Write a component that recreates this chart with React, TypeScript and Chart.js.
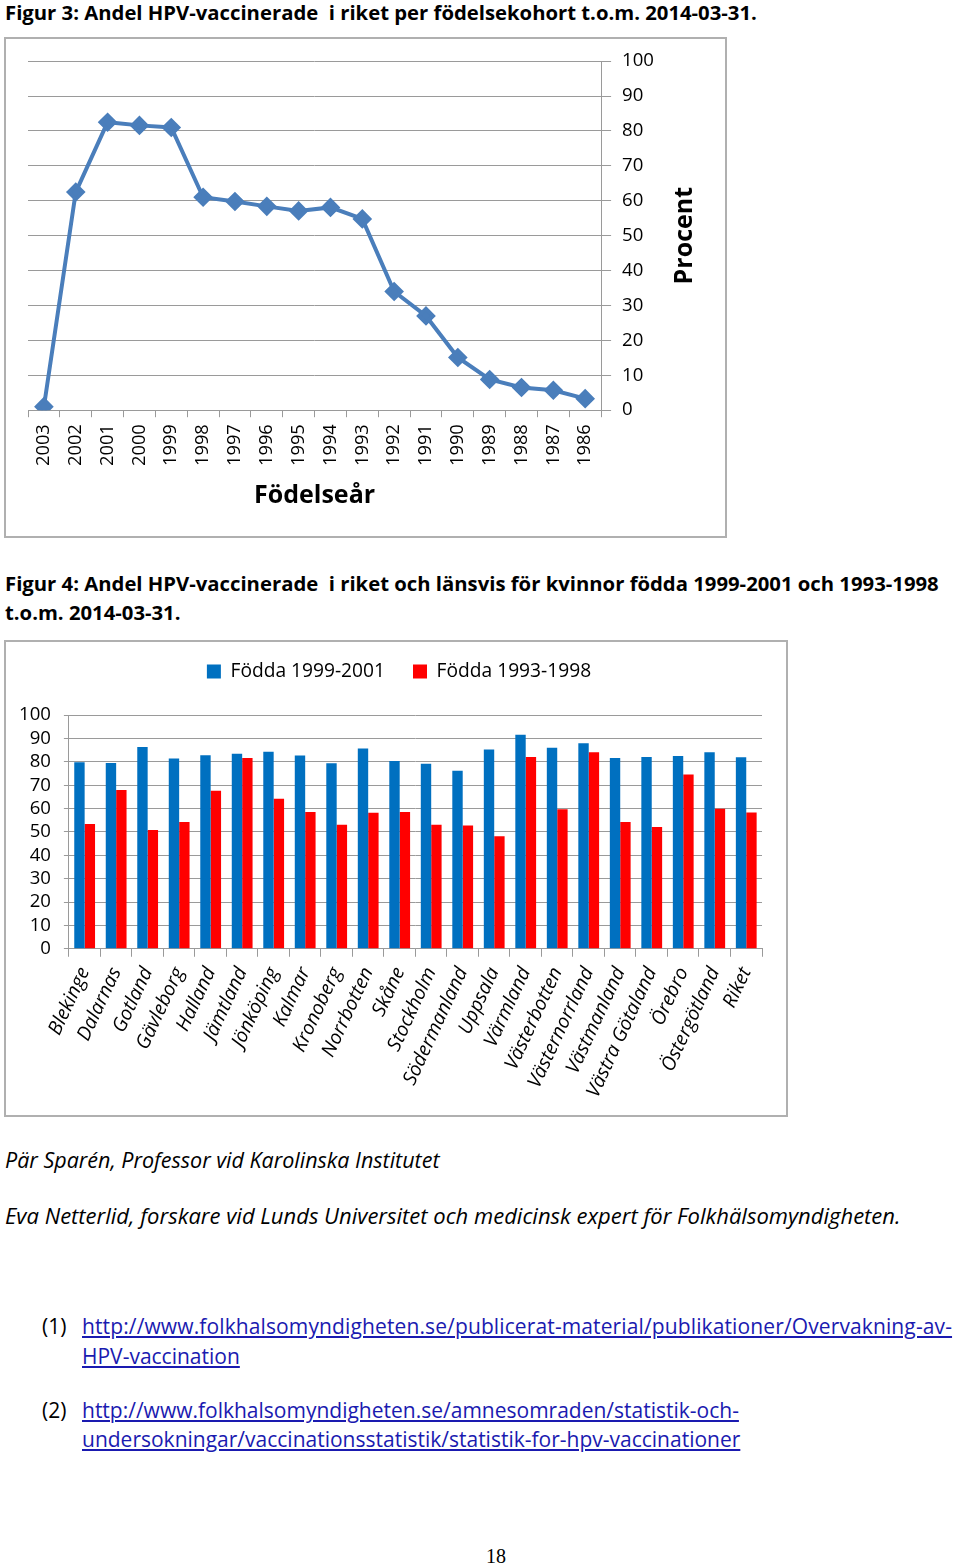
import { useEffect, useRef } from "react"
import { Chart, registerables } from "chart.js"

Chart.register(...registerables)

const FONT = "'Open Sans', sans-serif"
const GRID = "#9a9a9a"

// Figur 3: share vaccinated per birth cohort
const birthYears = [
  "2003", "2002", "2001", "2000", "1999", "1998", "1997", "1996", "1995",
  "1994", "1993", "1992", "1991", "1990", "1989", "1988", "1987", "1986",
]
const cohortShare = [1, 62.5, 82.5, 81.6, 81, 61, 59.8, 58.4, 57.1, 58.1, 54.8, 34, 27, 15.1, 8.8, 6.5, 5.7, 3.3]

// Figur 4: share vaccinated per county
const counties = [
  "Blekinge", "Dalarnas", "Gotland", "Gävleborg", "Halland", "Jämtland", "Jönköping", "Kalmar",
  "Kronoberg", "Norrbotten", "Skåne", "Stockholm", "Södermanland", "Uppsala", "Värmland",
  "Västerbotten", "Västernorrland", "Västmanland", "Västra Götaland", "Örebro", "Östergötland", "Riket",
]
const born1999to2001 = [79.9, 79.5, 86.4, 81.5, 82.8, 83.5, 84.3, 82.7, 79.4, 85.7, 80.4, 79.2, 76.2, 85.3, 91.6, 86.1, 88, 81.7, 82.1, 82.5, 84.1, 82]
const born1993to1998 = [53.4, 68, 50.9, 54.3, 67.7, 81.7, 64.2, 58.6, 53.1, 58.2, 58.6, 53.1, 52.8, 48.2, 82.1, 59.7, 84.1, 54.3, 52.1, 74.6, 59.9, 58.3]
const seriesLabels = ["Födda 1999-2001", "Födda 1993-1998"]

const percentMin = 0
const percentMax = 100
const percentStep = 10

// draws the rotated "Procent" title to the right of the y axis labels
const procentTitle = {
  id: "procentTitle",
  afterDraw(chart: any) {
    const { ctx, chartArea } = chart
    ctx.save()
    ctx.translate(chartArea.right + 84, (chartArea.top + chartArea.bottom) / 2)
    ctx.rotate(-Math.PI / 2)
    ctx.font = "bold 25px 'Open Sans', sans-serif"
    ctx.fillStyle = "#000"
    ctx.textAlign = "center"
    ctx.textBaseline = "middle"
    ctx.fillText("Procent", 0, 0)
    ctx.restore()
  },
}

// adds some space below the legend and nudges it to the right
const legendMargin = {
  id: "legendMargin",
  beforeInit(chart: any) {
    const originalFit = chart.legend.fit
    chart.legend.fit = function fit() {
      originalFit.bind(chart.legend)()
      this.height += 24
    }
  },
  afterLayout(chart: any) {
    chart.legend.left += 15
    chart.legend.right += 15
  },
}

function CohortChart() {
  const canvasRef = useRef<HTMLCanvasElement>(null)
  const chartRef = useRef<Chart | null>(null)

  useEffect(() => {
    if (!canvasRef.current) return
    chartRef.current = new Chart(canvasRef.current, {
      type: "line",
      data: {
        labels: birthYears,
        datasets: [
          {
            data: cohortShare,
            borderColor: "#4a7ebb",
            backgroundColor: "#4a7ebb",
            borderWidth: 4,
            pointStyle: "rectRot",
            pointRadius: 7,
            tension: 0,
          },
        ],
      },
      options: {
        animation: false,
        responsive: true,
        maintainAspectRatio: false,
        layout: { padding: { left: 22, right: 60, top: 13, bottom: 25 } },
        plugins: { legend: { display: false }, tooltip: { enabled: false } },
        scales: {
          x: {
            offset: true,
            grid: { offset: true, drawOnChartArea: false, tickLength: 7, color: GRID },
            border: { color: GRID },
            ticks: {
              autoSkip: false,
              minRotation: 90,
              maxRotation: 90,
              padding: 7,
              color: "#000",
              font: { family: FONT, size: 18.3 },
            },
            title: {
              display: true,
              text: "Födelseår",
              color: "#000",
              font: { family: FONT, size: 25, weight: "bold" },
              padding: { top: 8, bottom: 0 },
            },
          },
          y: {
            position: "right",
            min: percentMin,
            max: percentMax,
            grid: { color: GRID, tickLength: 10 },
            border: { color: GRID },
            ticks: {
              stepSize: percentStep,
              autoSkip: false,
              padding: 11,
              color: "#000",
              font: { family: FONT, size: 18.6 },
            },
          },
        },
      },
      plugins: [procentTitle],
    })
    return () => {
      chartRef.current?.destroy()
    }
  }, [])

  return (
    <div style={{ position: "relative", width: 719, height: 497 }}>
      <canvas ref={canvasRef} />
    </div>
  )
}

function CountyChart() {
  const canvasRef = useRef<HTMLCanvasElement>(null)
  const chartRef = useRef<Chart | null>(null)

  useEffect(() => {
    if (!canvasRef.current) return
    chartRef.current = new Chart(canvasRef.current, {
      type: "bar",
      data: {
        labels: counties,
        datasets: [
          { label: seriesLabels[0], data: born1999to2001, backgroundColor: "#0070c0" },
          { label: seriesLabels[1], data: born1993to1998, backgroundColor: "#ff0000" },
        ],
      },
      options: {
        animation: false,
        responsive: true,
        maintainAspectRatio: false,
        categoryPercentage: 0.66,
        barPercentage: 1,
        layout: { padding: { left: 0, right: 24, top: -8, bottom: 7 } },
        plugins: {
          tooltip: { enabled: false },
          legend: {
            position: "top",
            labels: {
              boxWidth: 14,
              boxHeight: 14,
              padding: 28,
              color: "#000",
              font: { family: FONT, size: 19.2 },
            },
          },
        },
        scales: {
          x: {
            grid: { offset: true, drawOnChartArea: false, tickLength: 8, color: GRID },
            border: { color: GRID },
            ticks: {
              autoSkip: false,
              minRotation: 65,
              maxRotation: 65,
              padding: 7,
              color: "#000",
              font: { family: FONT, size: 19.5, style: "italic" },
            },
          },
          y: {
            min: percentMin,
            max: percentMax,
            grid: { color: GRID, tickLength: 5 },
            border: { color: GRID },
            ticks: {
              stepSize: percentStep,
              autoSkip: false,
              padding: 13,
              color: "#000",
              font: { family: FONT, size: 18.6 },
            },
          },
        },
      },
      plugins: [legendMargin],
    })
    return () => {
      chartRef.current?.destroy()
    }
  }, [])

  return (
    <div style={{ position: "relative", width: 780, height: 473 }}>
      <canvas ref={canvasRef} />
    </div>
  )
}

const textBase: React.CSSProperties = {
  position: "absolute",
  margin: 0,
  fontFamily: FONT,
  color: "#000",
  whiteSpace: "nowrap",
}

const linkStyle: React.CSSProperties = { color: "#1a1ab0", textDecoration: "underline" }

export default function App() {
  return (
    <div style={{ position: "absolute", left: 0, top: 0, width: 960, height: 1564, background: "#fff" }}>
      <div style={{ ...textBase, left: 5, top: 0, fontSize: 20.3, lineHeight: "25px", fontWeight: "bold" }}>
        Figur 3: Andel HPV-vaccinerade&nbsp; i riket per födelsekohort t.o.m. 2014-03-31.
      </div>
      <div style={{ position: "absolute", left: 4, top: 37, border: "2px solid #b0b0b0" }}>
        <CohortChart />
      </div>

      <div style={{ ...textBase, left: 5, top: 569, fontSize: 20.3, lineHeight: "29px", fontWeight: "bold" }}>
        Figur 4: Andel HPV-vaccinerade&nbsp; i riket och länsvis för kvinnor födda 1999-2001 och 1993-1998
        <br />
        t.o.m. 2014-03-31.
      </div>
      <div style={{ position: "absolute", left: 4, top: 640, border: "2px solid #b0b0b0" }}>
        <CountyChart />
      </div>

      <div style={{ ...textBase, left: 5, top: 1146, fontSize: 21.5, lineHeight: "28px", fontStyle: "italic" }}>
        Pär Sparén, Professor vid Karolinska Institutet
      </div>
      <div style={{ ...textBase, left: 5, top: 1201, fontSize: 22, lineHeight: "28px", fontStyle: "italic" }}>
        Eva Netterlid, forskare vid Lunds Universitet och medicinsk expert för Folkhälsomyndigheten.
      </div>

      <div style={{ ...textBase, left: 42, top: 1311, fontSize: 21, lineHeight: "30px" }}>(1)</div>
      <div style={{ ...textBase, left: 82, top: 1311, fontSize: 21, lineHeight: "30px" }}>
        <span style={{ ...linkStyle, letterSpacing: "0.12px" }}>
          http://www.folkhalsomyndigheten.se/publicerat-material/publikationer/Overvakning-av-
        </span>
        <br />
        <span style={linkStyle}>HPV-vaccination</span>
      </div>

      <div style={{ ...textBase, left: 42, top: 1396, fontSize: 21, lineHeight: "29px" }}>(2)</div>
      <div style={{ ...textBase, left: 82, top: 1396, fontSize: 21, lineHeight: "29px" }}>
        <span style={linkStyle}>http://www.folkhalsomyndigheten.se/amnesomraden/statistik-och-</span>
        <br />
        <span style={linkStyle}>undersokningar/vaccinationsstatistik/statistik-for-hpv-vaccinationer</span>
      </div>

      <div
        style={{
          ...textBase,
          left: 486,
          top: 1544,
          fontSize: 20,
          lineHeight: "24px",
          fontFamily: "'Liberation Serif', serif",
        }}
      >
        18
      </div>
    </div>
  )
}
